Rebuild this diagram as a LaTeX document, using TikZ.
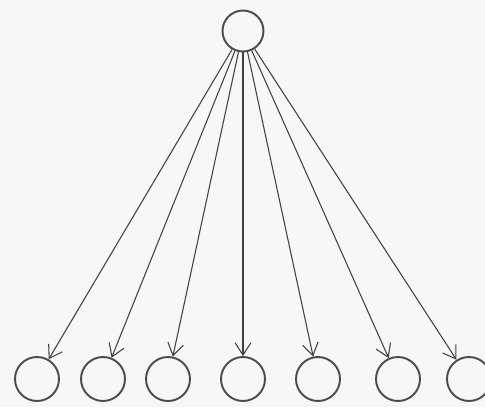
\documentclass[tikz,border=0pt]{standalone}
\usepackage{tikz}
\usetikzlibrary{arrows.meta}

\begin{document}
\begin{tikzpicture}[x=0.02cm, y=-0.02cm, ->, >={Straight Barb[length=7pt,width=9pt]}, line width=0.6pt]
                \tikzset{unit/.style={circle, draw=black!70, line width=1.1pt, minimum size=0.88cm, inner sep=0pt}}
                \fill[black!3] (0,0) rectangle (485,407);
                \useasboundingbox (0,0) rectangle (485,407);
                \node[unit, minimum size=0.82cm] (top) at (243,31) {};
                \node[unit] (b1) at (37,379) {};
                \node[unit] (b2) at (103,379) {};
                \node[unit] (b3) at (168,379) {};
                \node[unit] (b4) at (243,379) {};
                \node[unit] (b5) at (318,379) {};
                \node[unit] (b6) at (398,379) {};
                \node[unit] (b7) at (469,379) {};
                \draw[black!75] (top) -- (b1);
                \draw[black!75] (top) -- (b2);
                \draw[black!75] (top) -- (b3);
                \draw[black!75] (top) -- (b4);
                \draw[black!75] (top) -- (b5);
                \draw[black!75] (top) -- (b6);
                \draw[black!75] (top) -- (b7);
            \end{tikzpicture}
\end{document}
